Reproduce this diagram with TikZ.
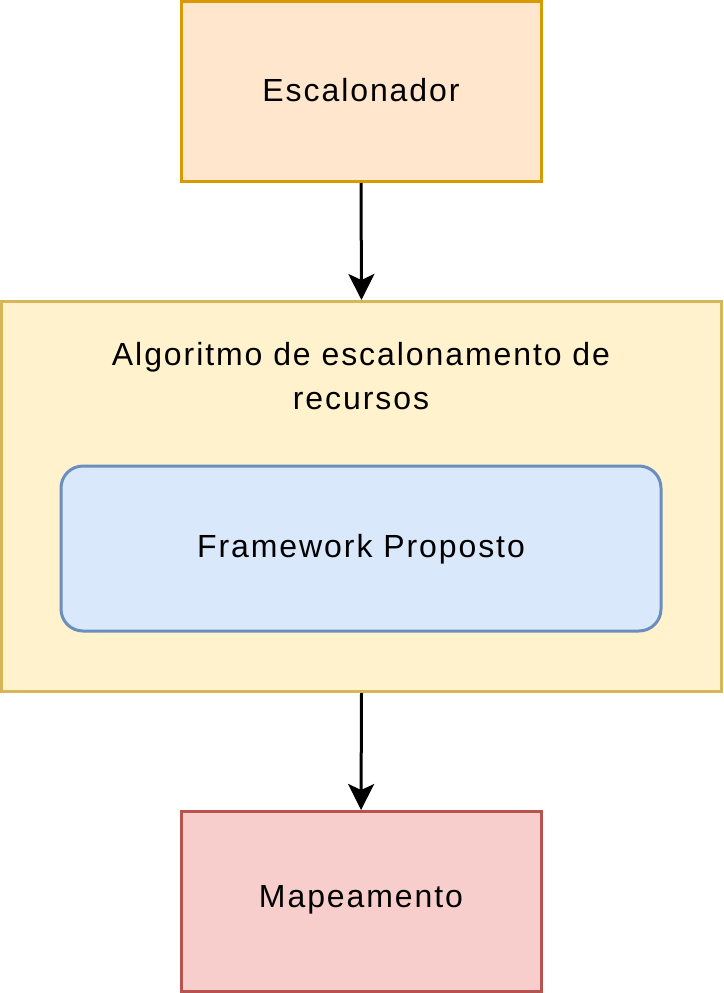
\documentclass[tikz,border=0pt]{standalone}
\usepackage{fontspec}
\setmainfont{Liberation Sans}[LetterSpace=6]
\usetikzlibrary{arrows.meta}
\definecolor{orFill}{HTML}{FFE6CC}\definecolor{orLine}{HTML}{D79B00}
\definecolor{yeFill}{HTML}{FFF2CC}\definecolor{yeLine}{HTML}{D6B656}
\definecolor{blFill}{HTML}{DAE8FC}\definecolor{blLine}{HTML}{6C8EBF}
\definecolor{reFill}{HTML}{F8CECC}\definecolor{reLine}{HTML}{B85450}
\tikzset{
  box/.style={draw, line width=3pt, inner sep=0pt, align=center},
  lbl/.style={font=\fontsize{32}{44}\selectfont, align=center, inner sep=0pt},
  conn/.style={line width=3pt, -{Stealth[length=26pt,width=26pt,inset=6pt]}}
}
\begin{document}
\begin{tikzpicture}[x=1pt,y=-1pt]
\useasboundingbox (0,0) rectangle (723,993);
\node[box, fill=orFill, draw=orLine, minimum width=360pt, minimum height=180pt] (esc) at (361,91.5) {};
\node[lbl] (esct) at (361,90) {Escalonador};
\node[box, fill=yeFill, draw=yeLine, minimum width=720pt, minimum height=390pt] (alg) at (361.5,496.5) {};
\node[lbl] (algt) at (361,376) {Algoritmo de escalonamento de\\recursos};
\node[box, fill=blFill, draw=blLine, rounded corners=22pt, minimum width=600pt, minimum height=165pt] (fw) at (361,548.5) {};
\node[lbl] (fwt) at (361,549) {Framework Proposto};
\node[box, fill=reFill, draw=reLine, minimum width=360pt, minimum height=180pt] (map) at (361,901.5) {};
\node[lbl] (mapt) at (361,900) {Mapeamento};
\draw[conn] (esc.south) -- (alg.north);
\draw[conn] (alg.south) -- (map.north);
\end{tikzpicture}
\end{document}
